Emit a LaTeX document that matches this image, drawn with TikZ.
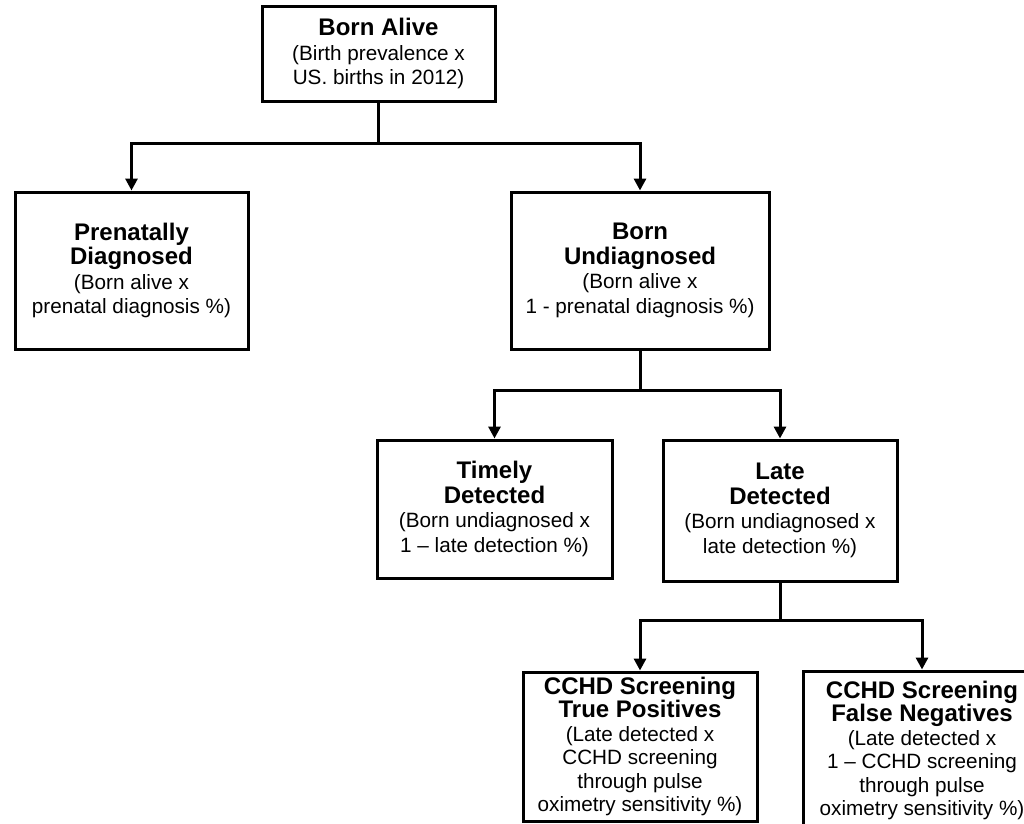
\documentclass[tikz,border=0pt]{standalone}
\usepackage{fontspec}
\setmainfont{Liberation Sans}
\usetikzlibrary{arrows.meta}
\newcommand\boxtitle[1]{{\fontsize{24}{24}\selectfont\bfseries #1}}
\begin{document}
\begin{tikzpicture}[x=1pt,y=-1pt,
  box/.style={draw, line width=3pt, inner sep=0pt, align=center,
    font=\fontsize{20.7}{24.5}\selectfont},
  tallbox/.style={box, font=\fontsize{20.7}{23.5}\selectfont},
  link/.style={line width=3pt},
  arr/.style={link, -{Triangle[width=12pt,length=12pt]}}]
\useasboundingbox (0,0) rectangle (1024,823);

\node[box, minimum width=233pt, minimum height=95pt] (alive) at (378.5,53.5)
  {\boxtitle{Born Alive}\\(Birth prevalence x\\US. births in 2012)};
\node[box, minimum width=233pt, minimum height=157pt] (prenat) at (131.5,270.5)
  {\boxtitle{Prenatally}\\\boxtitle{Diagnosed}\\(Born alive x\\prenatal diagnosis \%)};
\node[box, minimum width=258pt, minimum height=157pt] (undiag) at (640,270.5)
  {\boxtitle{Born}\\\boxtitle{Undiagnosed}\\(Born alive x\\1 - prenatal diagnosis \%)};
\node[box, minimum width=235pt, minimum height=138pt] (timely) at (494.5,509)
  {\boxtitle{Timely}\\\boxtitle{Detected}\\(Born undiagnosed x\\1 – late detection \%)};
\node[box, minimum width=234pt, minimum height=141pt] (late) at (780,510.5)
  {\boxtitle{Late}\\\boxtitle{Detected}\\(Born undiagnosed x\\late detection \%)};
\node[tallbox, minimum width=234pt, minimum height=149pt] (tp) at (640,746.5)
  {\boxtitle{CCHD Screening}\\\boxtitle{True Positives}\\(Late detected x\\CCHD screening\\through pulse\\oximetry sensitivity \%)};
\node[tallbox, minimum width=238pt, minimum height=159pt] (fn) at (922,750.5)
  {\boxtitle{CCHD Screening}\\\boxtitle{False Negatives}\\(Late detected x\\1 – CCHD screening\\through pulse\\oximetry sensitivity \%)};

\draw[link] (alive.south) -- ++(0,41) coordinate (j1);
\draw[arr] (j1) -| (prenat.north);
\draw[arr] (j1) -| (undiag.north);

\draw[link] (undiag.south) -- ++(0,40) coordinate (j2);
\draw[arr] (j2) -| (timely.north);
\draw[arr] (j2) -| (late.north);

\draw[link] (late.south) -- ++(0,38) coordinate (j3);
\draw[arr] (j3) -| (tp.north);
\draw[arr] (j3) -| (fn.north);
\end{tikzpicture}
\end{document}
